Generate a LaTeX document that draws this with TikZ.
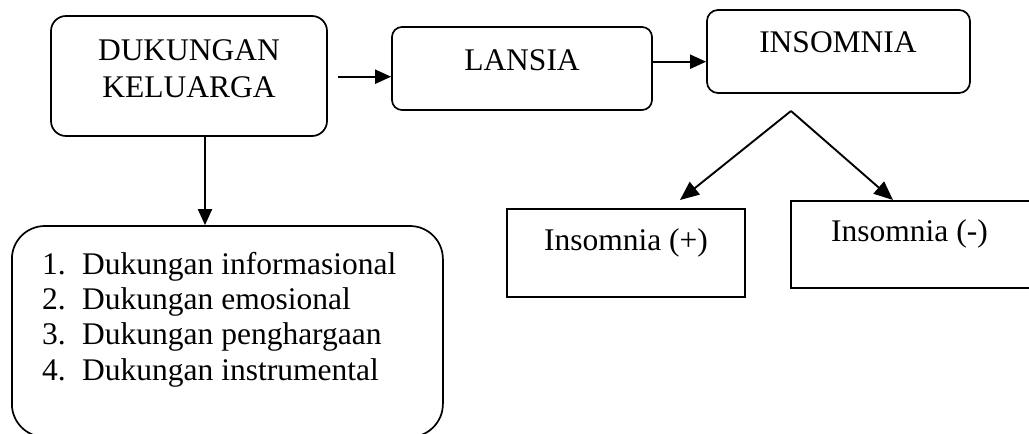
\documentclass[tikz,border=0pt]{standalone}
\usepackage{fontspec}
\setmainfont{Liberation Serif}
\usetikzlibrary{arrows.meta}
\begin{document}
\begin{tikzpicture}[x=1pt,y=-1pt,
  boxline/.style={draw=black, line width=1.7pt, inner sep=0pt},
  txt/.style={inner sep=0pt, anchor=base, font=\fontsize{31.5}{35}\selectfont},
  ltxt/.style={inner sep=0pt, anchor=base west, font=\fontsize{31.5}{35}\selectfont},
  arr/.style={line width=1.9pt, -{Triangle[length=16pt,width=14pt]}},
  darr/.style={line width=1.9pt, -{Triangle[length=19pt,width=16pt]}}]
\useasboundingbox (0,0) rectangle (1029,434);
% boxes
\node[boxline, rounded corners=15pt, minimum width=276pt, minimum height=120pt] (dk) at (189,76) {};
\node[boxline, rounded corners=10pt, minimum width=260pt, minimum height=83pt] (lansia) at (522,68.5) {};
\node[boxline, rounded corners=11pt, minimum width=263pt, minimum height=83pt] (ins) at (838.5,51.5) {};
\node[boxline, minimum width=238pt, minimum height=88pt] (ipos) at (626,253) {};
\node[boxline, minimum width=240pt, minimum height=87pt] (ineg) at (911,244.5) {};
\node[boxline, rounded corners=33pt, minimum width=431pt, minimum height=211pt] (list) at (227.4,331.5) {};
% texts
\node[txt] (dkt1) at (189,60) {DUKUNGAN};
\node[txt] (dkt2) at (189,97) {KELUARGA};
\node[txt] (lt) at (522,70) {LANSIA};
\node[txt] (it) at (838,52) {INSOMNIA};
\node[txt] (ipt) at (626,250) {Insomnia (+)};
\node[txt] (int) at (909.5,241) {Insomnia (-)};
\node[ltxt] (l1) at (42,274) {\makebox[40pt][l]{1.}Dukungan informasional};
\node[ltxt] (l2) at (42,309.3) {\makebox[40pt][l]{2.}Dukungan emosional};
\node[ltxt] (l3) at (42,344.6) {\makebox[40pt][l]{3.}Dukungan penghargaan};
\node[ltxt] (l4) at (42,380) {\makebox[40pt][l]{4.}Dukungan instrumental};
% connectors
\coordinate (a1) at ([xshift=10pt,yshift=-0.7pt]dk.east);
\draw[arr] (a1) -- (lansia.west |- a1);
\coordinate (a2) at ([yshift=6.8pt]lansia.east);
\draw[arr] (a2) -- (ins.west |- a2);
\coordinate (d1) at (205,136);
\draw[arr] (d1) -- (list.north -| d1);
\coordinate (apex) at (791,111);
\coordinate (tipL) at (680,200);
\coordinate (tipR) at (893,200);
\draw[darr] (apex) -- (tipL);
\draw[darr] (apex) -- (tipR);
\end{tikzpicture}
\end{document}
